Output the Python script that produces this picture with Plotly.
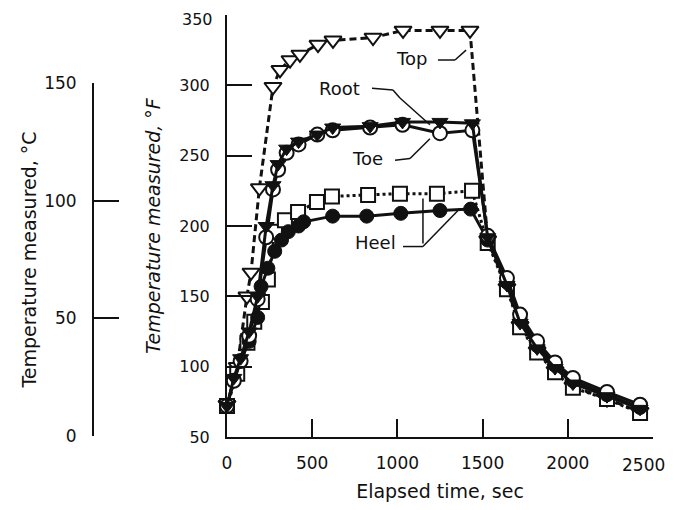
import plotly.graph_objects as go

# ---------------- data ----------------
top_t = [0, 60, 117, 141, 190, 270, 311, 370, 428, 534, 622, 857, 1033, 1250, 1426,
         1530, 1643, 1720, 1820, 1925, 2030, 2230, 2424]
top_v = [73, 100, 150, 167, 227, 299, 311, 318, 322, 329, 332, 334, 339, 339, 339,
         190, 156, 129, 111, 97, 86, 77, 68]

root_t = [0, 40, 80, 130, 180, 230, 270, 300, 350, 420, 530, 620, 840, 1030, 1250, 1440,
          1530, 1643, 1720, 1820, 1925, 2030, 2230, 2424]
root_v = [72, 92, 106, 125, 150, 200, 229, 244, 255, 260, 265, 270, 271, 274, 274, 273,
          192, 158, 131, 113, 99, 88, 79, 70]

toe_t = [0, 40, 80, 130, 180, 230, 270, 300, 350, 420, 530, 620, 840, 1030, 1250, 1440,
         1530, 1643, 1720, 1820, 1925, 2030, 2230, 2424]
toe_v = [72, 90, 104, 122, 148, 192, 226, 240, 252, 258, 265, 268, 270, 272, 266, 268,
         193, 163, 137, 118, 103, 92, 82, 73]

heel_t = [0, 40, 80, 130, 180, 200, 240, 280, 320, 360, 420, 450, 620, 820, 1020, 1250, 1430,
          1530, 1643, 1720, 1820, 1925, 2030, 2230, 2424]
heel_v = [72, 90, 104, 118, 135, 157, 170, 182, 190, 196, 200, 203, 207, 207, 209, 211, 212,
          190, 160, 134, 115, 101, 90, 80, 71]

sq_t = [0, 60, 120, 160, 205, 240, 282, 340, 417, 528, 616, 828, 1015, 1232, 1438,
        1530, 1643, 1720, 1820, 1925, 2030, 2230, 2424]
sq_v = [72, 95, 117, 132, 146, 162, 196, 204, 210, 217, 221, 222, 223, 223, 225,
        188, 155, 128, 110, 96, 85, 77, 67]

x_ticks = [0, 500, 1000, 1500, 2000, 2500]
x_tick_labels = ["0", "500", "1000", "1500", "2000", ""]
x_last_label = "2500"
f_ticks = [50, 100, 150, 200, 250, 300, 350]
f_tick_labels = ["50", "100", "150", "200", "250", "300", ""]
f_top_label = "350"
c_ticks = [0, 50, 100, 150]

FONT = "DejaVu Sans"
BLK = "#111111"

fig = go.Figure()

fig.add_trace(go.Scatter(x=top_t, y=top_v, mode="lines+markers", name="Top",
                         line=dict(color=BLK, width=3, dash="7px,4px"),
                         marker=dict(symbol="triangle-down", size=15, color="white",
                                     line=dict(color=BLK, width=2)),
                         cliponaxis=False))
fig.add_trace(go.Scatter(x=sq_t, y=sq_v, mode="lines+markers", name="Heel (sq)",
                         line=dict(color=BLK, width=3, dash="dot"),
                         marker=dict(symbol="square", size=14, color="white",
                                     line=dict(color=BLK, width=2)),
                         cliponaxis=False))
fig.add_trace(go.Scatter(x=heel_t, y=heel_v, mode="lines+markers", name="Heel",
                         line=dict(color=BLK, width=3),
                         marker=dict(symbol="circle", size=14, color=BLK,
                                     line=dict(color=BLK, width=1)),
                         cliponaxis=False))
fig.add_trace(go.Scatter(x=toe_t, y=toe_v, mode="lines+markers", name="Toe",
                         line=dict(color=BLK, width=3),
                         marker=dict(symbol="circle", size=14, color="white",
                                     line=dict(color=BLK, width=2)),
                         cliponaxis=False))
fig.add_trace(go.Scatter(x=root_t, y=root_v, mode="lines+markers", name="Root",
                         line=dict(color=BLK, width=3),
                         marker=dict(symbol="triangle-down", size=14, color=BLK,
                                     line=dict(color=BLK, width=1)),
                         cliponaxis=False))
# dummy trace for the Celsius axis
fig.add_trace(go.Scatter(x=[None], y=[None], yaxis="y2", showlegend=False, hoverinfo="skip"))

# labels
labels = [("Top", 1080, 319), ("Root", 663, 298), ("Toe", 822, 248), ("Heel", 874, 188)]
for txt, lx, ly in labels:
    fig.add_annotation(x=lx, y=ly, text=txt, showarrow=False, xref="x", yref="y",
                       font=dict(family=FONT, size=18, color=BLK))

# edge tick labels, nudged so they stay inside the page
fig.add_annotation(x=x_ticks[-1], y=0, xref="x", yref="paper", text=x_last_label,
                   showarrow=False, xanchor="right", yanchor="middle",
                   xshift=14, yshift=-28, font=dict(family=FONT, size=17, color=BLK))
fig.add_annotation(x=0, y=f_ticks[-1], xref="x", yref="y", text=f_top_label,
                   showarrow=False, xanchor="right", yanchor="middle",
                   xshift=-12, yshift=-4, font=dict(family=FONT, size=16, color=BLK))

leaders = [
    [(1238, 318), (1338, 318), (1403, 325)],
    [(851, 298), (974, 296.6), (1015, 291), (1191, 272)],
    [(986, 246.7), (1074, 248), (1191, 262)],
    [(1033, 185.4), (1150, 185.4), (1367, 212.5)],
    [(1150, 187.6), (1150, 219.6)],
]
for pts in leaders:
    for (x0, y0), (x1, y1) in zip(pts[:-1], pts[1:]):
        fig.add_shape(type="line", x0=x0, y0=y0, x1=x1, y1=y1, xref="x", yref="y",
                      line=dict(color=BLK, width=1.5))

fig.update_layout(
    width=668, height=494,
    margin=dict(l=4, r=23, t=7, b=65, autoexpand=False),
    plot_bgcolor="rgba(0,0,0,0)", paper_bgcolor="white",
    showlegend=False,
    font=dict(family=FONT, size=17, color=BLK),
    xaxis=dict(domain=[0.3354, 1], range=[0, 2500], tickvals=x_ticks, ticktext=x_tick_labels,
               ticks="inside", ticklen=18, tickwidth=2, tickcolor=BLK,
               ticklabelstandoff=10, ticklabeloverflow="allow",
               showline=True, linecolor=BLK, linewidth=2, showgrid=False, zeroline=False,
               title=dict(text="Elapsed time, sec", font=dict(size=19), standoff=12),
               anchor="y", automargin=False),
    yaxis=dict(range=[50, 350], tickvals=f_ticks, ticktext=f_tick_labels, tickfont=dict(size=16),
               ticks="inside", ticklen=25, tickwidth=2, tickcolor=BLK,
               ticklabelstandoff=12, ticklabeloverflow="allow",
               showline=True, linecolor=BLK, linewidth=2, showgrid=False, zeroline=False,
               title=dict(text="<i>Temperature measured, °F</i>", font=dict(size=19), standoff=14),
               anchor="x", automargin=False),
    yaxis2=dict(domain=[0.0024, 0.839], range=[0, 150], tickvals=c_ticks,
                anchor="free", position=0.1264, side="left",
                ticks="inside", ticklen=25, tickwidth=2, tickcolor=BLK,
                ticklabelstandoff=12, ticklabeloverflow="allow",
                showline=True, linecolor=BLK, linewidth=2, showgrid=False, zeroline=False,
                title=dict(text="Temperature measured, °C", font=dict(size=19), standoff=2),
                automargin=False),
)

fig.write_html("out.html")
